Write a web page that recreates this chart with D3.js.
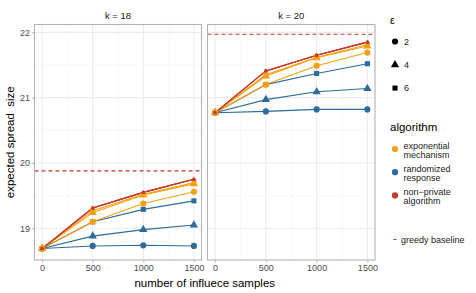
<!DOCTYPE html>
<html>
<head>
<meta charset="utf-8">
<script src="https://cdn.jsdelivr.net/npm/d3@7"></script>
<style>
  body { margin: 0; background: #fff; }
  text { font-family: "Liberation Sans", Arial, sans-serif; }
</style>
</head>
<body>
<svg id="chart" width="476" height="293"></svg>
<script>
// data
var samples = [0, 500, 1000, 1500];
var panels = ["k = 18", "k = 20"];
var epsilons = [2, 4, 6];
var algorithms = ["exponential mechanism", "randomized response", "non\u2212private algorithm"];
var greedyBaseline = [19.88, 21.97];

// k = 18
var em18 = { 2: [18.69, 19.10, 19.38, 19.56], 4: [18.69, 19.24, 19.51, 19.68], 6: [18.69, 19.27, 19.52, 19.70] };
var rr18 = { 2: [18.69, 18.73, 18.74, 18.73], 4: [18.69, 18.88, 18.98, 19.05], 6: [18.69, 19.10, 19.29, 19.42] };
var np18 = [18.69, 19.31, 19.55, 19.75];
// k = 20
var em20 = { 2: [20.77, 21.20, 21.49, 21.69], 4: [20.77, 21.33, 21.61, 21.79], 6: [20.77, 21.35, 21.62, 21.81] };
var rr20 = { 2: [20.77, 20.79, 20.82, 20.82], 4: [20.77, 20.97, 21.09, 21.14], 6: [20.77, 21.20, 21.37, 21.52] };
var np20 = [20.77, 21.41, 21.65, 21.85];

var colors = { "exponential mechanism": "#f5a00f", "randomized response": "#2c6b9b", "non\u2212private algorithm": "#c43a30" };
var shapes = { 2: d3.symbolCircle, 4: d3.symbolTriangle, 6: d3.symbolSquare };
var shapeSize = { 2: 30, 4: 30, 6: 26 };

function buildSeries(em, rr, np) {
  var out = [];
  epsilons.forEach(function(e){ out.push({ alg: algorithms[1], eps: e, vals: rr[e] }); });
  epsilons.forEach(function(e){ out.push({ alg: algorithms[0], eps: e, vals: em[e] }); });
  epsilons.forEach(function(e){ out.push({ alg: algorithms[2], eps: e, vals: np }); });
  return out;
}
var panelData = [buildSeries(em18, rr18, np18), buildSeries(em20, rr20, np20)];

var svg = d3.select("#chart");
var plotTop = 24.5, plotBottom = 260;
var panelX = [[34.5, 201.5], [207.5, 375]];

var y = d3.scaleLinear().domain([18.515, 22.12]).range([plotBottom, plotTop]);
var grey = "#4d4d4d";

panelX.forEach(function(px, i) {
  var x = d3.scaleLinear().domain([-75, 1575]).range(px);
  var g = svg.append("g");

  // grid
  [250, 750, 1250].forEach(function(v){
    g.append("line").attr("x1", x(v)).attr("x2", x(v)).attr("y1", plotTop).attr("y2", plotBottom)
      .attr("stroke", "#f2f2f2").attr("stroke-width", 0.55);
  });
  [19.5, 20.5, 21.5].forEach(function(v){
    g.append("line").attr("x1", px[0]).attr("x2", px[1]).attr("y1", y(v)).attr("y2", y(v))
      .attr("stroke", "#f2f2f2").attr("stroke-width", 0.55);
  });
  samples.forEach(function(v){
    g.append("line").attr("x1", x(v)).attr("x2", x(v)).attr("y1", plotTop).attr("y2", plotBottom)
      .attr("stroke", "#ebebeb").attr("stroke-width", 1.1);
  });
  [19, 20, 21, 22].forEach(function(v){
    g.append("line").attr("x1", px[0]).attr("x2", px[1]).attr("y1", y(v)).attr("y2", y(v))
      .attr("stroke", "#ebebeb").attr("stroke-width", 1.1);
  });

  // greedy baseline
  g.append("line").attr("x1", px[0]).attr("x2", px[1])
    .attr("y1", y(greedyBaseline[i])).attr("y2", y(greedyBaseline[i]))
    .attr("stroke", "#c43a30").attr("stroke-width", 1.1).attr("stroke-dasharray", "4,3");

  // lines and points
  var line = d3.line().x(function(d, j){ return x(samples[j]); }).y(function(d){ return y(d); });
  panelData[i].forEach(function(s){
    g.append("path").attr("d", line(s.vals)).attr("fill", "none")
      .attr("stroke", colors[s.alg]).attr("stroke-width", 1.1);
  });
  panelData[i].forEach(function(s){
    var sz = s.alg === algorithms[2] ? 8 : shapeSize[s.eps];
    g.selectAll(null).data(s.vals).enter().append("path")
      .attr("d", d3.symbol().type(shapes[s.eps]).size(sz))
      .attr("transform", function(d, j){ return "translate(" + x(samples[j]) + "," + y(d) + ")"; })
      .attr("fill", colors[s.alg]);
  });

  // border
  g.append("rect").attr("x", px[0]).attr("y", plotTop).attr("width", px[1] - px[0]).attr("height", plotBottom - plotTop)
    .attr("fill", "none").attr("stroke", "#b3b3b3").attr("stroke-width", 1.1);

  // x axis
  var xa = g.append("g").attr("transform", "translate(0," + plotBottom + ")")
    .call(d3.axisBottom(x).tickValues(samples).tickFormat(d3.format("d")).tickSize(2.5).tickPadding(2));
  xa.select(".domain").remove();
  xa.selectAll("line").attr("stroke", "#b3b3b3");
  xa.selectAll("text").attr("fill", grey).style("font-size", "9px");

  // strip label
  g.append("text").attr("x", (px[0] + px[1]) / 2).attr("y", 18.5).attr("text-anchor", "middle")
    .attr("fill", "#1a1a1a").style("font-size", "9.5px").text(panels[i]);
});

// y axis
var ya = svg.append("g").attr("transform", "translate(" + panelX[0][0] + ",0)")
  .call(d3.axisLeft(y).tickValues([19, 20, 21, 22]).tickFormat(d3.format("d")).tickSize(2.5).tickPadding(2));
ya.select(".domain").remove();
ya.selectAll("line").attr("stroke", "#b3b3b3");
ya.selectAll("text").attr("fill", grey).style("font-size", "9px");

// axis titles
svg.append("text").attr("transform", "translate(14," + (plotTop + plotBottom) / 2 + ") rotate(-90)")
  .attr("text-anchor", "middle").style("font-size", "11.5px").attr("fill", "#000")
  .style("white-space", "pre").text("expected spread  size");
svg.append("text").attr("x", (panelX[0][0] + panelX[1][1]) / 2).attr("y", 287)
  .attr("text-anchor", "middle").style("font-size", "11.5px").attr("fill", "#000")
  .text("number of influece samples");

// legend: epsilon
var lg = svg.append("g");
lg.append("text").attr("x", 390).attr("y", 24).style("font-size", "10.5px").text("\u03b5");
epsilons.forEach(function(e, k){
  var cy = 41.5 + k * 23.3;
  lg.append("path").attr("d", d3.symbol().type(shapes[e]).size(shapeSize[e])())
    .attr("transform", "translate(395," + cy + ")").attr("fill", "#000");
  lg.append("text").attr("x", 404).attr("y", cy + 3).style("font-size", "9px").attr("fill", "#1a1a1a").text(e);
});

// legend: algorithm
lg.append("text").attr("x", 390).attr("y", 131).style("font-size", "11.5px").text("algorithm");
algorithms.forEach(function(a, k){
  var cy = 149 + k * 23.2;
  lg.append("circle").attr("cx", 395).attr("cy", cy).attr("r", 3.1).attr("fill", colors[a]);
  var parts = k === 0 ? ["exponential", "mechanism"] : k === 1 ? ["randomized", "response"] : ["non\u2212private", "algorithm"];
  parts.forEach(function(p, m){
    lg.append("text").attr("x", 403.5).attr("y", cy - 0.5 + m * 9.3).style("font-size", "9px")
      .attr("fill", "#1a1a1a").text(p);
  });
});

// legend: greedy baseline
lg.append("line").attr("x1", 393.5).attr("x2", 396.5).attr("y1", 239.5).attr("y2", 239.5)
  .attr("stroke", "#c43a30").attr("stroke-width", 1.1);
lg.append("text").attr("x", 401).attr("y", 242.5).style("font-size", "9px").attr("fill", "#1a1a1a").text("greedy baseline");
</script>
</body>
</html>
